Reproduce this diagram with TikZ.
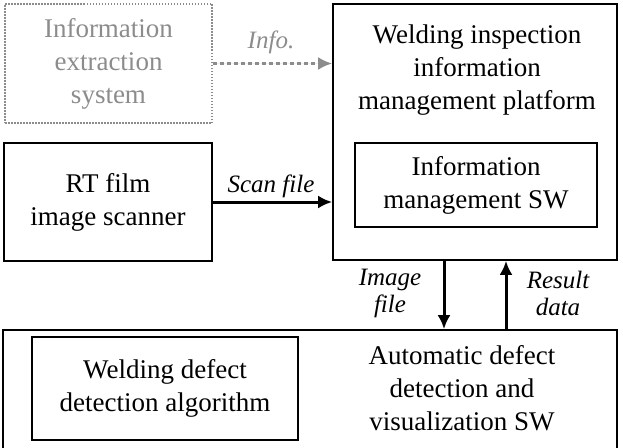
\documentclass[tikz,border=0pt]{standalone}
\usepackage{fontspec}
\setmainfont{Liberation Serif}
\usepackage{tikz}
\usetikzlibrary{arrows,arrows.meta,calc}

\tikzset{
  blockbox/.style={draw, line width=1.7pt, align=center, inner sep=0pt},
  ghostbox/.style={draw=black!45, text=black!45, line width=1.7pt,
    dash pattern=on 1.5pt off 1.5pt, align=center, inner sep=0pt},
  flowarrow/.style={-{Latex[length=14pt,width=13pt]}, line width=3pt},
  flowlabel/.style={font=\fontsize{25pt}{27pt}\selectfont\itshape, align=center},
}

\begin{document}
\begin{tikzpicture}[x=1pt,y=-1pt, font=\fontsize{27pt}{33pt}\selectfont]
\clip (0,0) rectangle (623,447);
\useasboundingbox (0,0) rectangle (623,447);
% blocks
\node[ghostbox, minimum width=207pt, minimum height=119pt] (extract) at (108.5,63.5)
  {Information\\extraction\\system};
\node[blockbox, minimum width=284pt, minimum height=256pt] (platform) at (475,132) {};
\node[align=center] (platformtitle) at (477,70)
  {Welding inspection\\information\\management platform};
\node[blockbox, minimum width=242pt, minimum height=84pt] (infosw) at (476,185)
  {Information\\management SW};
\node[blockbox, minimum width=208pt, minimum height=118pt] (scanner) at (108,202)
  {RT film\\image scanner};
\node[blockbox, minimum width=614pt, minimum height=140pt] (autodet) at (310,400) {};
\node[align=center] (autotitle) at (462,388)
  {Automatic defect\\detection and\\visualization SW};
\node[blockbox, minimum width=266pt, minimum height=103pt] (algo) at (165,388.5)
  {Welding defect\\detection algorithm};
% connectors
\coordinate (imgx) at (444,0);
\coordinate (resx) at (506,0);
\draw[flowarrow, draw=black!45, fill=black!45, dash pattern=on 4pt off 3pt] (extract.east) -- (extract.east -| platform.west);
\draw[flowarrow] (scanner.east) -- (scanner.east -| platform.west);
\draw[flowarrow] (platform.south -| imgx) -- (autodet.north -| imgx);
\draw[flowarrow] (autodet.north -| resx) -- (platform.south -| resx);
% labels
\node[flowlabel, text=black!45] (infolabel) at (271,42) {Info.};
\node[flowlabel] (scanlabel) at (271,186) {Scan file};
\node[flowlabel] (imglabel) at (390,293) {Image\\file};
\node[flowlabel] (reslabel) at (558,293) {Result\\data};
\end{tikzpicture}
\end{document}
